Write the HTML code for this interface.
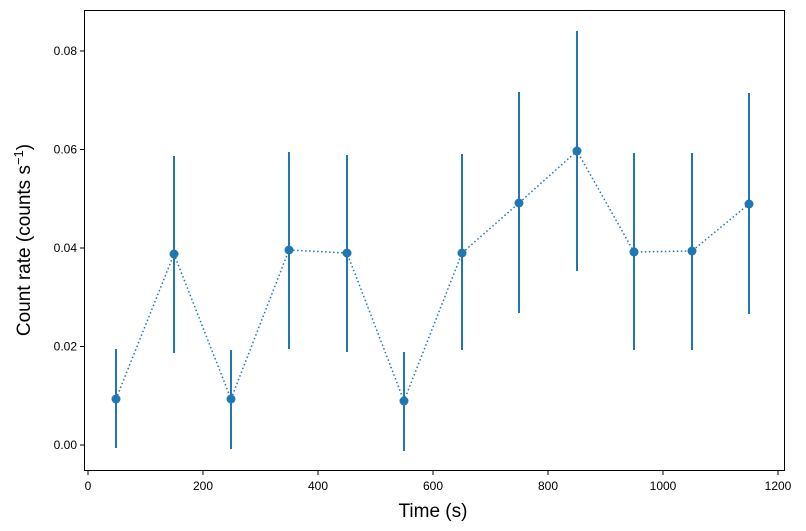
<!DOCTYPE html>
<html><head><meta charset="utf-8"><style>body{margin:0;background:#fff}svg{display:block;font-family:"Liberation Sans","DejaVu Sans",sans-serif}</style></head>
<body>
<svg width="806" height="531" viewBox="0 0 806 531">
<rect x="84.5" y="10.5" width="700" height="460" fill="none" stroke="#000" stroke-width="1"/>
<g stroke="#000" stroke-width="1">
<line x1="88" y1="471" x2="88" y2="475"/><line x1="203" y1="471" x2="203" y2="475"/><line x1="318" y1="471" x2="318" y2="475"/><line x1="433" y1="471" x2="433" y2="475"/><line x1="548" y1="471" x2="548" y2="475"/><line x1="663" y1="471" x2="663" y2="475"/><line x1="778" y1="471" x2="778" y2="475"/>
<line x1="80" y1="445" x2="84" y2="445"/><line x1="80" y1="346.5" x2="84" y2="346.5"/><line x1="80" y1="248" x2="84" y2="248"/><line x1="80" y1="149.5" x2="84" y2="149.5"/><line x1="80" y1="51" x2="84" y2="51"/>
</g>
<g font-size="12" fill="#000" text-anchor="middle">
<text x="88" y="490">0</text><text x="203" y="490">200</text><text x="318" y="490">400</text><text x="433" y="490">600</text><text x="548" y="490">800</text><text x="663" y="490">1000</text><text x="778" y="490">1200</text>
</g>
<g font-size="12" fill="#000" text-anchor="end">
<text x="77" y="449">0.00</text><text x="77" y="350.5">0.02</text><text x="77" y="252">0.04</text><text x="77" y="153.5">0.06</text><text x="77" y="55">0.08</text>
</g>
<text x="433" y="517" font-size="19" text-anchor="middle">Time (s)</text>
<text transform="translate(30,240) rotate(-90)" font-size="19" text-anchor="middle">Count rate (counts s<tspan dy="-7" font-size="13">−1</tspan><tspan dy="7">)</tspan></text>
<g stroke="#1f77b4" stroke-width="2">
<line x1="116" y1="349" x2="116" y2="448"/><line x1="174" y1="156" x2="174" y2="353"/><line x1="231" y1="350" x2="231" y2="449"/><line x1="289" y1="152" x2="289" y2="349"/><line x1="347" y1="155" x2="347" y2="352"/><line x1="404" y1="352" x2="404" y2="451"/><line x1="462" y1="154" x2="462" y2="350"/><line x1="519" y1="92" x2="519" y2="313"/><line x1="577" y1="31" x2="577" y2="271"/><line x1="634" y1="153" x2="634" y2="350"/><line x1="692" y1="153" x2="692" y2="350"/><line x1="749" y1="93" x2="749" y2="314"/>
</g>
<polyline fill="none" stroke="#1f77b4" stroke-width="1.5" stroke-dasharray="1.5,2.5" points="116,399 174,254 231,399 289,250 347,253 404,401 462,253 519,203 577,151 634,252 692,251 749,204"/>
<g fill="#1f77b4">
<circle cx="116" cy="399" r="4.5"/><circle cx="174" cy="254" r="4.5"/><circle cx="231" cy="399" r="4.5"/><circle cx="289" cy="250" r="4.5"/><circle cx="347" cy="253" r="4.5"/><circle cx="404" cy="401" r="4.5"/><circle cx="462" cy="253" r="4.5"/><circle cx="519" cy="203" r="4.5"/><circle cx="577" cy="151" r="4.5"/><circle cx="634" cy="252" r="4.5"/><circle cx="692" cy="251" r="4.5"/><circle cx="749" cy="204" r="4.5"/>
</g>
</svg>
</body></html>
